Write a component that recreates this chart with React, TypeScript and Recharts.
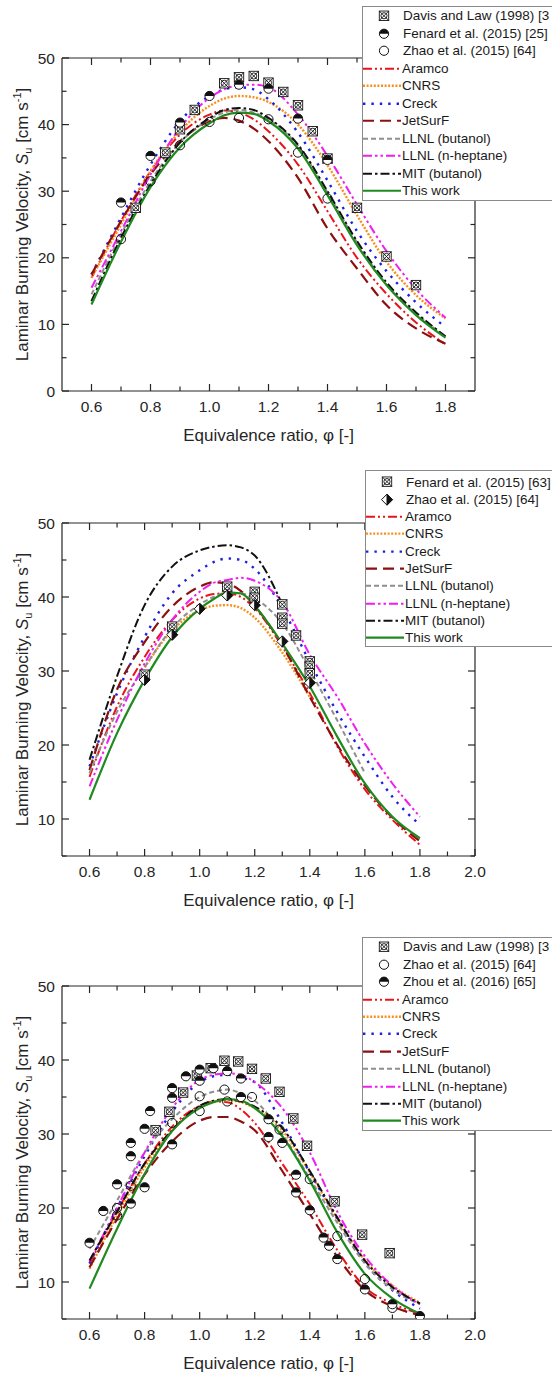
import React from 'react';
import { ComposedChart, Line, Scatter, XAxis, YAxis, Label, ReferenceLine } from 'recharts';

const FONT = 'Arial, "Liberation Sans", Helvetica, sans-serif';
const INK = '#262626';
const PLOT_W = 413;
const PLOT_H = 333;

const phiGrid = [0.6, 0.7, 0.8, 0.9, 1.0, 1.05, 1.1, 1.15, 1.2, 1.3, 1.4, 1.5, 1.6, 1.7, 1.8];

// ---- panel 1 (top)
const aramco1 = [17, 25.5, 33, 38.5, 41.5, 42.1, 41.8, 40.8, 39, 34, 27, 20, 14.6, 10.3, 7];
const cnrs1 = [17, 25, 33, 39, 42.8, 43.9, 44.3, 44.1, 43.4, 40, 33.9, 26.4, 19.4, 14.4, 10.9];
const creck1 = [17.5, 26, 34, 40.5, 44.3, 45.3, 45.6, 45.3, 43.8, 38.8, 31.6, 24, 18, 13.3, 9.6];
const jetsurf1 = [17.5, 25.5, 32.5, 37.5, 40.5, 41, 40.6, 39.4, 37.5, 32, 24.4, 18.4, 12.9, 9.4, 7.1];
const llnlBut1 = [14.5, 23.5, 31.5, 37.3, 40.8, 41.8, 42.2, 41.8, 40.8, 36.8, 29.8, 22.3, 16, 11.6, 8.2];
const llnlHep1 = [15.5, 24, 32.5, 39.5, 44, 45.3, 45.9, 46, 45.6, 41.5, 35.3, 28, 21, 15.3, 11];
const mit1 = [13.5, 23, 31, 37.3, 41, 42.2, 42.5, 42.2, 41, 37, 30, 22.5, 16.3, 11.8, 8.2];
const thisWork1 = [13, 22.4, 30.6, 36.6, 40.2, 41.4, 41.8, 41.6, 40.5, 36.4, 29.4, 21.9, 15.9, 11.4, 8];

const davisPhi1 = [0.75, 0.85, 0.9, 0.95, 1.05, 1.1, 1.15, 1.2, 1.25, 1.3, 1.35, 1.4, 1.5, 1.6, 1.7];
const davisSu1 = [27.5, 35.8, 39.3, 42.2, 46.2, 47.1, 47.3, 46.3, 44.9, 42.9, 39, 34.9, 27.5, 20.2, 15.9];
const fenardPhi1 = [0.7, 0.8, 0.9, 1.0, 1.1, 1.2, 1.3, 1.4];
const fenardSu1 = [28.3, 35.3, 40.3, 44.3, 46, 45.4, 40.9, 34.7];
const zhaoPhi1 = [0.7, 0.8, 0.9, 1.0, 1.1, 1.2, 1.3, 1.4];
const zhaoSu1 = [22.8, 31.5, 36.9, 40.4, 41.0, 40.8, 35.8, 28.9];

// ---- panel 2 (middle)
const aramco2 = [15.7, 25.2, 31.9, 36.9, 39.8, 40.4, 40.5, 40, 38.5, 33.3, 27, 19.8, 14, 9.9, 6.5];
const cnrs2 = [null, null, 30.5, 35.5, 38.2, 38.8, 38.9, 38.5, 37.2, 32.5, 26.5, null, null, null, null];
const creck2 = [17.1, 27, 34.6, 40.5, 43.6, 44.7, 45.2, 45, 43.8, 38.5, 31.2, 24.4, 18.4, 13, 9.2];
const jetsurf2 = [16.6, 27.5, 33.9, 38.7, 41.4, 42, 41.8, 40.8, 38.8, 33.5, 26.5, 20, 14.5, 10.2, 7];
const llnlBut2 = [16.2, 24.5, 30.5, 35.8, 39, 40, 40.6, 40.5, 39.8, 36.4, 30.1, 23.3, 16.2, null, null];
const llnlHep2 = [14.4, 23.4, 31, 36.9, 40.7, 41.9, 42.3, 42.6, 42.2, 39.3, 32.2, 26.5, 20.2, 14.8, 10.3];
const mit2 = [18, 29.3, 38.9, 44.1, 46.3, 46.8, 47, 46.7, 45.6, 39, null, null, null, null, null];
const thisWork2 = [12.6, 21.6, 28.8, 34.6, 38.4, 39.7, 40.6, 40.5, 38.8, 33.7, 27.9, 21.1, 14.8, 10.3, 7.4];

const fenardPhi2 = [0.8, 0.9, 1.1, 1.2, 1.2, 1.3, 1.3, 1.3, 1.35, 1.4, 1.4, 1.4];
const fenardSu2 = [29.5, 36, 41.4, 40.7, 39.9, 39, 37.2, 36.4, 34.8, 31.3, 30.6, 29.7];
const zhaoPhi2 = [0.8, 0.9, 1.0, 1.1, 1.2, 1.3, 1.4];
const zhaoSu2 = [28.8, 34.9, 38.4, 40.2, 38.9, 34, 28.4];

// ---- panel 3 (bottom)
const aramco3 = [12.5, 19.5, 26, 31, 33.8, 34.4, 34.3, 33.3, 31.5, 26, 20.5, 14.3, 9.3, 7.1, 5.7];
const cnrs3 = [11.8, 19, 25.5, 30.5, 33.6, 34.3, 34.6, 34.3, 33.5, 30.5, 24.8, 18.5, 13, 9.5, 7.2];
const creck3 = [12.5, 20, 27, 33, 37, 37.8, 38, 37.6, 37, 31.5, 24.8, 18.6, 12.6, 8.9, 6.4];
const jetsurf3 = [12, 18.5, 24.5, 29, 31.8, 32.3, 32.3, 31.7, 30.5, 25, 19.2, 13.4, 8.9, 6.7, 5.5];
const llnlBut3 = [14.5, 21, 27.5, 32, 35, 35.7, 36, 35.5, 34.5, 30, 24, 18, 12.5, 9, 7];
const llnlHep3 = [12.8, 20, 27.5, 33.5, 37.3, 38, 38.2, 38, 37, 33.5, 27.5, 19.5, 13.5, 9.5, 7];
const mit3 = [12.9, 19.5, 26, 30.5, 33.8, 34.5, 34.7, 34.4, 33.7, 30.8, 25, 18.7, 12.9, 9.3, 7.1];
const thisWork3 = [9.1, 17.2, 24.6, 30.4, 33.5, 34.3, 34.7, 34.5, 33.5, 29.7, 23.7, 16.7, 11.1, 7.8, 5.7];

const davisPhi3 = [0.84, 0.89, 0.94, 0.99, 1.04, 1.09, 1.14, 1.19, 1.24, 1.29, 1.34, 1.39, 1.49, 1.59, 1.69];
const davisSu3 = [30.5, 33.0, 35.6, 37.9, 38.9, 39.9, 39.8, 38.8, 37.5, 35.7, 32.1, 28.4, 20.9, 16.4, 13.9];
const zhaoPhi3 = [0.7, 0.7, 0.75, 0.9, 1.0, 1.0, 1.09, 1.1, 1.19, 1.29, 1.4, 1.5, 1.6, 1.7];
const zhaoSu3 = [20.0, 19.0, 23.0, 31.5, 35.1, 33.1, 36.0, 34.4, 35.0, 30.6, 23.9, 16.2, 10.4, 6.5];
const zhouPhi3 = [0.6, 0.65, 0.7, 0.75, 0.75, 0.75, 0.8, 0.8, 0.82, 0.9, 0.9, 0.9, 0.95, 1.0, 1.0, 1.05,
  1.1, 1.15, 1.15, 1.25, 1.25, 1.3, 1.35, 1.35, 1.4, 1.45, 1.47, 1.5, 1.6, 1.7, 1.8];
const zhouSu3 = [15.3, 19.6, 23.2, 27.0, 28.8, 20.6, 30.7, 22.8, 33.1, 36.2, 34.9, 28.6, 37.8, 38.7, 37.2, 38.9,
  38.5, 37.5, 35.0, 32.0, 29.6, 28.8, 24.5, 22.1, 19.7, 16.0, 14.9, 13.1, 9.0, 7.0, 5.4];

// axis ticks
const xTicks1 = [0.6, 0.7, 0.8, 0.9, 1.0, 1.1, 1.2, 1.3, 1.4, 1.5, 1.6, 1.7, 1.8];
const xTicks23 = [0.6, 0.7, 0.8, 0.9, 1.0, 1.1, 1.2, 1.3, 1.4, 1.5, 1.6, 1.7, 1.8, 1.9, 2.0];
const yTicks1 = [0, 5, 10, 15, 20, 25, 30, 35, 40, 45, 50];
const yTicks23 = [5, 10, 15, 20, 25, 30, 35, 40, 45, 50];

const MODELS = [
  { key: 'aramco', name: 'Aramco', color: '#e8141c', dash: '9 3 2 3 2 3', width: 2 },
  { key: 'cnrs', name: 'CNRS', color: '#f7901e', dash: '2 1.6', width: 2.4 },
  { key: 'creck', name: 'Creck', color: '#1f1fe0', dash: '2.4 6', width: 2.4 },
  { key: 'jetsurf', name: 'JetSurF', color: '#8c1010', dash: '11 6', width: 2.2 },
  { key: 'llnlBut', name: 'LLNL (butanol)', color: '#8f8f8f', dash: '5 3', width: 2 },
  { key: 'llnlHep', name: 'LLNL (n-heptane)', color: '#f01ef0', dash: '9 3 2.5 3 2.5 3', width: 2 },
  { key: 'mit', name: 'MIT (butanol)', color: '#111111', dash: '9 3 2.5 3', width: 2 },
  { key: 'thisWork', name: 'This work', color: '#1f8a1f', dash: undefined, width: 2.2 },
];

const table = (s: Record<string, (number | null)[]>) =>
  phiGrid.map((p, i) => {
    const row: any = { phi: p };
    Object.keys(s).forEach((k) => { row[k] = s[k][i]; });
    return row;
  });
const pts = (phi: number[], su: number[]) => phi.map((p, i) => ({ phi: p, su: su[i] }));

// marker shapes
const CrossBox = ({ cx, cy }: any) => (
  <g stroke="#111" strokeWidth={0.9} fill="none">
    <rect x={cx - 4.7} y={cy - 4.7} width={9.4} height={9.4} fill="#fff" />
    <circle cx={cx} cy={cy} r={3.1} />
    <path d={`M${cx - 4.7} ${cy - 4.7}L${cx + 4.7} ${cy + 4.7}M${cx + 4.7} ${cy - 4.7}L${cx - 4.7} ${cy + 4.7}`} />
  </g>
);
const HalfCircle = ({ cx, cy }: any) => (
  <g>
    <circle cx={cx} cy={cy} r={4.6} fill="#fff" stroke="#111" strokeWidth={1} />
    <path d={`M${cx - 4.6} ${cy}A4.6 4.6 0 0 1 ${cx + 4.6} ${cy}Z`} fill="#111" />
  </g>
);
const OpenCircle = ({ cx, cy }: any) => (
  <circle cx={cx} cy={cy} r={4.6} fill="none" stroke="#111" strokeWidth={1} />
);
const HalfDiamond = ({ cx, cy }: any) => (
  <g stroke="#111" strokeWidth={1}>
    <path d={`M${cx} ${cy - 5.5}L${cx + 5.5} ${cy}L${cx} ${cy + 5.5}L${cx - 5.5} ${cy}Z`} fill="#fff" />
    <path d={`M${cx} ${cy - 5.5}L${cx + 5.5} ${cy}L${cx} ${cy + 5.5}Z`} fill="#111" />
  </g>
);

const PANELS = [
  {
    top: 0,
    xDomain: [0.5, 1.9], xTicks: xTicks1, yDomain: [0, 50], yTicks: yTicks1,
    rows: table({ aramco: aramco1, cnrs: cnrs1, creck: creck1, jetsurf: jetsurf1, llnlBut: llnlBut1, llnlHep: llnlHep1, mit: mit1, thisWork: thisWork1 }),
    scatters: [
      { name: 'Davis and Law (1998) [3', data: pts(davisPhi1, davisSu1), Shape: CrossBox },
      { name: 'Fenard et al. (2015) [25]', data: pts(fenardPhi1, fenardSu1), Shape: HalfCircle },
      { name: 'Zhao et al. (2015) [64]', data: pts(zhaoPhi1, zhaoSu1), Shape: OpenCircle },
    ],
    legend: { left: 362, top: 6, height: 195, pad: 0, rowH: 17.5 },
  },
  {
    top: 465,
    xDomain: [0.5, 2.0], xTicks: xTicks23, yDomain: [5, 50], yTicks: yTicks23,
    rows: table({ aramco: aramco2, cnrs: cnrs2, creck: creck2, jetsurf: jetsurf2, llnlBut: llnlBut2, llnlHep: llnlHep2, mit: mit2, thisWork: thisWork2 }),
    scatters: [
      { name: 'Fenard et al. (2015) [63]', data: pts(fenardPhi2, fenardSu2), Shape: CrossBox },
      { name: 'Zhao et al. (2015) [64]', data: pts(zhaoPhi2, zhaoSu2), Shape: HalfDiamond },
    ],
    legend: { left: 365, top: 470, height: 177, pad: 2.4, rowH: 17.3 },
  },
  {
    top: 928,
    xDomain: [0.5, 2.0], xTicks: xTicks23, yDomain: [5, 50], yTicks: yTicks23,
    rows: table({ aramco: aramco3, cnrs: cnrs3, creck: creck3, jetsurf: jetsurf3, llnlBut: llnlBut3, llnlHep: llnlHep3, mit: mit3, thisWork: thisWork3 }),
    scatters: [
      { name: 'Davis and Law (1998) [3', data: pts(davisPhi3, davisSu3), Shape: CrossBox },
      { name: 'Zhao et al. (2015) [64]', data: pts(zhaoPhi3, zhaoSu3), Shape: OpenCircle },
      { name: 'Zhou et al. (2016) [65]', data: pts(zhouPhi3, zhouSu3), Shape: HalfCircle },
    ],
    legend: { left: 362, top: 937, height: 194, pad: 0.3, rowH: 17.4 },
  },
];

const isMajorX = (v: number) => Math.round(v * 10) % 2 === 0;
const isMajorY = (v: number) => Math.round(v) % 10 === 0;

const BottomLabel = (props: any) => {
  const { x, y, payload } = props;
  const v = payload.value;
  if (!isMajorX(v)) return <g />;
  return (
    <text x={x} y={y + 20.5} textAnchor="middle" fontSize={15.5} fontFamily={FONT} fill={INK}>
      {v.toFixed(1)}
    </text>
  );
};
const LeftLabel = (props: any) => {
  const { x, y, payload } = props;
  const v = payload.value;
  if (!isMajorY(v)) return <g />;
  return (
    <text x={x - 7} y={y + 5.5} textAnchor="end" fontSize={15.5} fontFamily={FONT} fill={INK}>
      {v}
    </text>
  );
};

// inward tick marks on all four frame sides, as short segments through the chart scales
const tickSegments = (panel: any) => {
  const [x0, x1] = panel.xDomain;
  const [y0, y1] = panel.yDomain;
  const ux = (x1 - x0) / PLOT_W; // data units per pixel
  const uy = (y1 - y0) / PLOT_H;
  const segs: any[] = [];
  panel.xTicks.forEach((v: number) => {
    const len = (isMajorX(v) ? 7 : 4.5) * uy;
    segs.push([{ x: v, y: y0 }, { x: v, y: y0 + len }]);
    segs.push([{ x: v, y: y1 }, { x: v, y: y1 - len }]);
  });
  panel.yTicks.forEach((v: number) => {
    const len = (isMajorY(v) ? 7 : 4.5) * ux;
    segs.push([{ x: x0, y: v }, { x: x0 + len, y: v }]);
    segs.push([{ x: x1, y: v }, { x: x1 - len, y: v }]);
  });
  return segs;
};

const XTitle = (props: any) => {
  const vb = props.viewBox || { x: 62, y: 391, width: PLOT_W };
  return (
    <text x={vb.x + vb.width / 2} y={vb.y + 50} textAnchor="middle" fontSize={17} fontFamily={FONT} fill={INK}>
      Equivalence ratio, φ [-]
    </text>
  );
};
const YTitle = (props: any) => {
  const vb = props.viewBox || { y: 58, height: PLOT_H };
  const cy = vb.y + vb.height / 2;
  const x = 28;
  return (
    <text transform={`rotate(-90 ${x} ${cy})`} x={x} y={cy} textAnchor="middle" fontSize={17} fontFamily={FONT} fill={INK}>
      Laminar Burning Velocity, <tspan fontStyle="italic">S</tspan>
      <tspan dy={4} fontSize={11}>u</tspan>
      <tspan dy={-4}> [cm s</tspan>
      <tspan dy={-7} fontSize={11}>-1</tspan>
      <tspan dy={7}>]</tspan>
    </text>
  );
};

const LegendBox = ({ panel }: any) => {
  const { left, top, height, pad, rowH } = panel.legend;
  const entries = [
    ...panel.scatters.map((s: any) => ({ name: s.name, Shape: s.Shape })),
    ...MODELS.map((m) => ({ name: m.name, model: m })),
  ];
  return (
    <div style={{ position: 'absolute', left, top, width: 210, height, border: '1px solid #8a8a8a', background: '#fff', boxSizing: 'border-box' }}>
      {entries.map((e: any, i: number) => (
        <div key={i} style={{ position: 'absolute', left: 0, top: pad + i * rowH, height: rowH, display: 'flex', alignItems: 'center' }}>
          <svg width={39} height={rowH} style={{ display: 'block', flex: 'none' }}>
            {e.Shape ? (
              <e.Shape cx={21} cy={rowH / 2} />
            ) : (
              <line x1={0} y1={rowH / 2} x2={38} y2={rowH / 2} stroke={e.model.color} strokeWidth={e.model.width} strokeDasharray={e.model.dash} />
            )}
          </svg>
          <span style={{ fontSize: 13.5, fontFamily: FONT, color: '#1a1a1a', whiteSpace: 'nowrap', marginLeft: e.Shape ? 1 : 0 }}>{e.name}</span>
        </div>
      ))}
    </div>
  );
};

const frame = { stroke: INK, strokeWidth: 1.2 };

const Panel = ({ panel }: any) => (
  <>
    <div style={{ position: 'absolute', left: 0, top: panel.top }}>
      <ComposedChart width={552} height={460} data={panel.rows} margin={{ top: 57, right: 76, bottom: 0, left: 0 }}>
        <XAxis dataKey="phi" type="number" domain={panel.xDomain} ticks={panel.xTicks} interval={0}
          allowDataOverflow height={69} tickSize={0} tickMargin={0} tick={<BottomLabel />} tickLine={false} axisLine={frame}>
          <Label content={<XTitle />} />
        </XAxis>
        <XAxis xAxisId="top" orientation="top" type="number" domain={panel.xDomain} allowDataOverflow
          height={1} tick={false} tickLine={false} axisLine={frame} />
        <YAxis type="number" domain={panel.yDomain} ticks={panel.yTicks} interval={0} allowDataOverflow width={62}
          tickSize={0} tickMargin={0} tick={<LeftLabel />} tickLine={false} axisLine={frame}>
          <Label content={<YTitle />} />
        </YAxis>
        <YAxis yAxisId="right" orientation="right" type="number" domain={panel.yDomain} allowDataOverflow
          width={1} tick={false} tickLine={false} axisLine={frame} />
        {tickSegments(panel).map((seg, i) => (
          <ReferenceLine key={`t${i}`} segment={seg} stroke={INK} strokeWidth={1.2} ifOverflow="visible" />
        ))}
        {MODELS.map((m) => (
          <Line key={m.key} type="monotone" dataKey={m.key} stroke={m.color} strokeWidth={m.width}
            strokeDasharray={m.dash} dot={false} activeDot={false} connectNulls={false} isAnimationActive={false} />
        ))}
        {panel.scatters.map((s: any, i: number) => (
          <Scatter key={i} data={s.data} dataKey="su" isAnimationActive={false}
            shape={(p: any) => <s.Shape cx={p.cx} cy={p.cy} />} />
        ))}
      </ComposedChart>
    </div>
    <LegendBox panel={panel} />
  </>
);

export default function App() {
  return (
    <div style={{ position: 'relative', width: 552, height: 1375, overflow: 'hidden', background: '#fff' }}>
      <style>{'body{margin:0}'}</style>
      {PANELS.map((p, i) => (
        <Panel key={i} panel={p} />
      ))}
    </div>
  );
}
